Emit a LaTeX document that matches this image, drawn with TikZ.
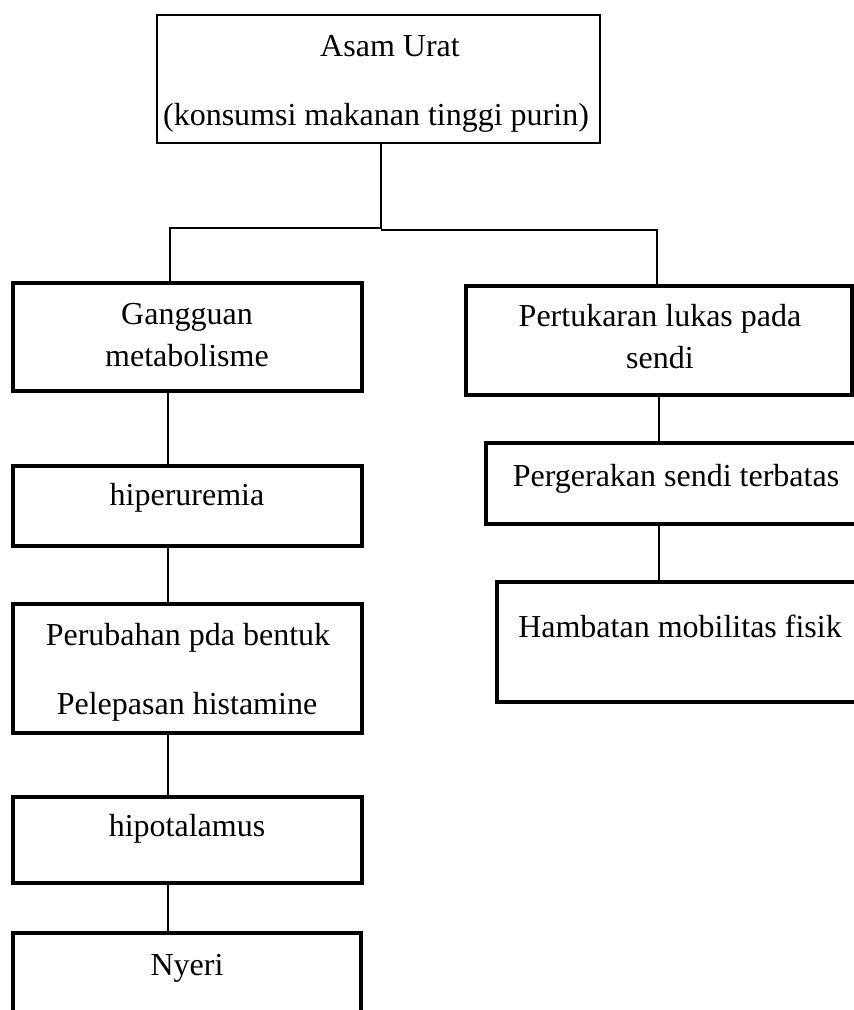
\documentclass[tikz,border=0pt]{standalone}
\usepackage{fontspec}
\setmainfont{Liberation Serif}
\usetikzlibrary{fit}
\begin{document}
\begin{tikzpicture}[x=0.5pt,y=-0.5pt,
  thinbox/.style={draw, line width=0.6pt, inner sep=0pt, fill=none},
  thickbox/.style={draw, line width=2pt, inner sep=0pt, fill=none},
  txt/.style={inner sep=0pt, anchor=base, font=\fontsize{16}{19}\selectfont},
  conn/.style={draw, line width=0.6pt}]
\useasboundingbox (0,0) rectangle (854,1010);
\clip (0,0) rectangle (854,1010);
\fill[white] (0,0) rectangle (854,1010);
% boxes
\node[thinbox, fit={(157,15) (600,143)}] (top) {};
\node[thickbox, fit={(13,283) (362,391)}] (gang) {};
\node[thickbox, fit={(13,466) (362,546)}] (hiper) {};
\node[thickbox, fit={(13,604) (362,733)}] (perub) {};
\node[thickbox, fit={(13,797) (362,883)}] (hipot) {};
\node[thickbox, fit={(13,933) (361,1040)}] (nyeri) {};
\node[thickbox, fit={(466,286) (852,395)}] (pertuk) {};
\node[thickbox, fit={(486,443) (880,524)}] (perger) {};
\node[thickbox, fit={(497,582) (880,702)}] (hamb) {};
% texts
\node[txt] (t1) at (390,57) {Asam Urat};
\node[txt] (t2) at (376,126) {(konsumsi makanan tinggi purin)};
\node[txt] (t3) at (187,324) {Gangguan};
\node[txt] (t4) at (187,366) {metabolisme};
\node[txt] (t5) at (187,505) {hiperuremia};
\node[txt] (t6) at (188,645) {Perubahan pda bentuk};
\node[txt] (t7) at (187,714) {Pelepasan histamine};
\node[txt] (t8) at (187,836) {hipotalamus};
\node[txt] (t9) at (187,975) {Nyeri};
\node[txt] (t10) at (660,326) {Pertukaran lukas pada};
\node[txt] (t11) at (660,368) {sendi};
\node[txt] (t12) at (676,486) {Pergerakan sendi terbatas};
\node[txt] (t13) at (680,637) {Hambatan mobilitas fisik};
% connectors
\coordinate (j) at (381,228);
\coordinate (jL) at (170,228);
\coordinate (jm) at (381,230);
\coordinate (jR) at (657,230);
\coordinate (xL) at (168,0);
\coordinate (xR) at (659,0);
\draw[conn] (top.south -| j) -- (j) -- (jL) -- (jL |- gang.north);
\draw[conn] (jm) -- (jR) -- (jR |- pertuk.north);
\draw[conn] (gang.south -| xL) -- (hiper.north -| xL);
\draw[conn] (hiper.south -| xL) -- (perub.north -| xL);
\draw[conn] (perub.south -| xL) -- (hipot.north -| xL);
\draw[conn] (hipot.south -| xL) -- (nyeri.north -| xL);
\draw[conn] (pertuk.south -| xR) -- (perger.north -| xR);
\draw[conn] (perger.south -| xR) -- (hamb.north -| xR);
\end{tikzpicture}
\end{document}
